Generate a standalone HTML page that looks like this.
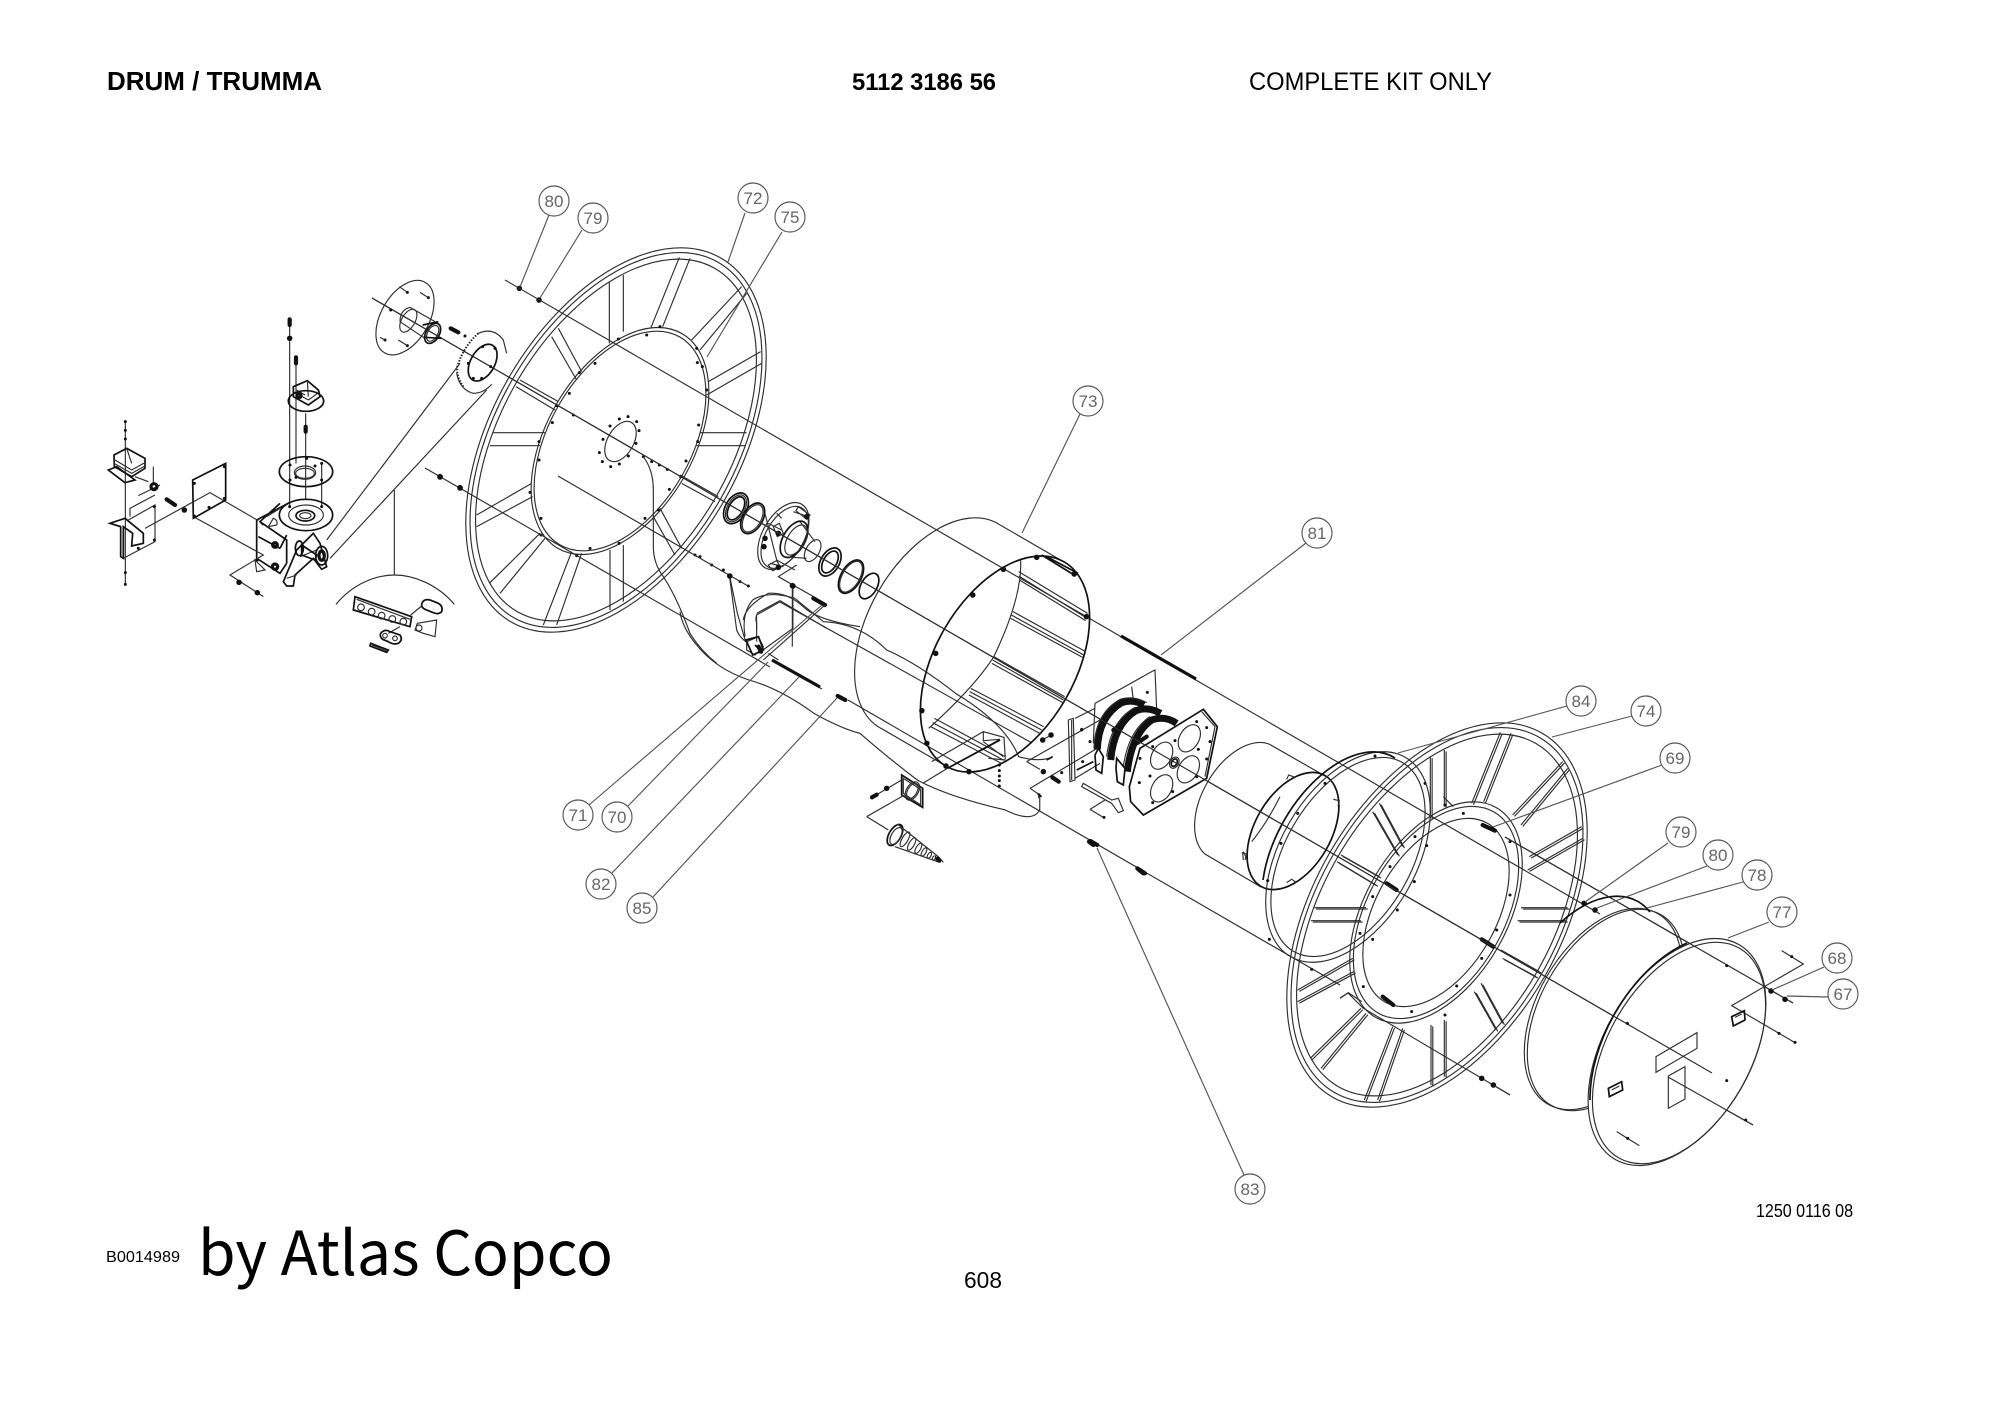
<!DOCTYPE html>
<html><head><meta charset="utf-8"><title>Drum / Trumma</title>
<style>
html,body{margin:0;padding:0;background:#fff}
svg{display:block}
svg *{vector-effect:non-scaling-stroke}
g,path,line,ellipse,circle{fill:none;stroke:#2e2e2e;stroke-width:1.15}
.e{transform-box:fill-box;transform-origin:center;transform:rotate(-60deg)}
.w{fill:#fff}
.b{stroke-width:1.7;stroke:#111}
.t{stroke-width:3.2;stroke:#111}
.x{stroke-width:4.2;stroke:#111;stroke-linecap:round}
.d{stroke-width:3;stroke-linecap:round;stroke:#111}
.h{stroke-width:5.5;stroke-linecap:round;stroke:#111}
.l{stroke:#555}
.lab circle{stroke:#555;fill:#fff}
text{font-family:"Liberation Sans",sans-serif;fill:#000;stroke:none}
.lab text{font-size:17px;fill:#666;text-anchor:middle}
</style></head><body>
<svg width="2000" height="1414" viewBox="0 0 2000 1414" xmlns="http://www.w3.org/2000/svg">
<rect width="2000" height="1414" style="fill:#fff;stroke:none"/>
<defs>
<g id="rim">
<ellipse class="e" cx="616" cy="440" rx="210" ry="124"/>
<ellipse class="e" cx="616" cy="440" rx="205" ry="120"/>
<ellipse class="e" cx="616" cy="440" rx="198" ry="115"/>
</g>
<g id="sp" transform="translate(440,180) scale(.33333)">
<path d="M718 232L632 445M750 235L668 440M508 305V490M550 285V455M335 470L410 600M355 445L425 575M228 620L345 690M240 600L355 665M160 758H315M150 797H300M110 1005L275 910M110 1040L278 950M148 1210L300 1060M180 1240L315 1075M310 1335L395 1115M350 1335L425 1120M510 1110V1290M550 1095V1265M640 1010L705 1125M660 985L725 1105M720 885L835 950M725 910L825 965M780 758H920M770 797H915M805 605L962 515M800 645L965 550M755 480L905 320M780 510L920 340"/>
</g>
</defs>

<!-- left wheel -->
<use href="#rim"/><use href="#sp"/>
<ellipse class="e" cx="620" cy="441" rx="124" ry="73.5"/>
<ellipse class="e" cx="620" cy="441" rx="120" ry="71"/>
<ellipse class="e" cx="620.5" cy="441.5" rx="22" ry="13"/>
<g transform="translate(440,180) scale(.33333)">
<path class="d" d="M564 710h.1M590 725h.1M597 752h.1M588 790h.1M565 828h.1M538 852h.1M512 860h.1M487 845h.1M478 818h.1M489 778h.1M510 738h.1M538 717h.1M620 465h.1M660 440h.1M535 477h.1M465 550h.1M418 578h.1M388 640h.1M350 677h.1M337 728h.1M297 785h.1M297 840h.1M270 937h.1M303 1015h.1M303 1065h.1M410 1127h.1M450 1105h.1M537 1090h.1M615 1015h.1M655 990h.1M688 928h.1M722 890h.1M738 843h.1M773 785h.1M776 735h.1M800 630h.1M772 548h.1M787 560h.1M770 505h.1M400 705h.1M610 830h.1M635 845h.1M658 855h.1M682 868h.1M765 1125h.1M780 1130h.1M815 1155h.1M850 1170h.1M870 1185h.1M900 1205h.1M925 1218h.1"/>
<path class="h" d="M238 325h.1M297 360h.1"/>
<!-- hub -->
<ellipse class="e b" cx="888" cy="985" rx="50" ry="32"/>
<ellipse class="e b" cx="888" cy="985" rx="38" ry="21"/>
<ellipse class="e" cx="888" cy="985" rx="44" ry="26"/>
<ellipse class="e b" cx="938" cy="1015" rx="50" ry="30"/>
<ellipse class="e" cx="938" cy="1015" rx="45" ry="25"/>
<ellipse class="e" cx="1030" cy="1068" rx="110" ry="62"/>
<ellipse class="e" cx="1034" cy="1072" rx="102" ry="57"/>
<ellipse class="e b" cx="1062" cy="1078" rx="60" ry="33"/>
<ellipse class="e" cx="1068" cy="1080" rx="50" ry="26"/>
<ellipse class="e" cx="1118" cy="1112" rx="36" ry="20"/>
<path d="M975 1000L1010 1140L1065 1170M1010 1000L1025 1015M1080 1025L1125 1085M1030 1130L1100 1135M985 1030L1025 1050M990 1150L1030 1160M1060 995L1105 1010M1000 1040L1018 1030L1030 1060L1012 1070ZM985 1155L1010 1142L1022 1162L998 1172ZM1075 980L1110 1005L1100 1018L1068 992Z"/>
<ellipse class="e b" cx="1170" cy="1146" rx="46" ry="28"/>
<ellipse class="e b" cx="1170" cy="1146" rx="36" ry="20"/>
<ellipse class="e b" cx="1233" cy="1190" rx="55" ry="30"/>
<ellipse class="e" cx="1233" cy="1190" rx="51" ry="26"/>
<ellipse class="e b" cx="1287" cy="1218" rx="42" ry="24"/>
<path class="h" d="M1015 1060h.1M1015 1162h.1M1100 1010h.1M975 1075h.1M972 1100h.1M1057 1217h.1"/>
<path d="M1070 1155L1015 1190L1130 1255"/><path class="x" d="M1120 1255L1155 1275"/>
<path d="M610 830Q640 870 640 930V1100Q640 1150 670 1190Q710 1250 750 1360Q780 1410 830 1450"/>
<path d="M868 1185L890 1350Q900 1375 925 1390M910 1320Q915 1280 985 1240Q1040 1235 1090 1280Q1130 1320 1260 1340M950 1325V1385M1057 1217V1400M920 1385L955 1370L970 1400L945 1425L920 1410Z"/>
<path class="b" d="M945 1395L965 1415"/>
<path d="M948 1310L948 1325M950 1300L1020 1262L1160 1345M1155 1275L970 1440M985 1420L1015 1440"/>
</g>

<!-- main long lines -->
<path d="M505 280L1600 914M372 298L1712 1073M425 468L770 667M772 660L822 689M848 700L1340 985M1340 998L1348 993L1363 1008L1510 1095M558 476L748 586M780 602L1032 743M1505 837L1793 1003M1668 1077L1753 1125"/>
<path class="t" d="M1121 636L1196 679M772 660L820 687"/>
<path class="h" d="M440 477h.1M460 488h.1"/>

<!-- drum 73 -->
<path d="M1064 562L995 522A118 70 -60 0 0 877 726L946 766"/>
<ellipse class="e b" cx="1005" cy="664" rx="118" ry="70"/>
<g transform="translate(680,480) scale(.3827,.33333)">
<path d="M890 240Q895 350 820 530Q770 620 650 745"/>
<path d="M885 275L1065 400M885 288L1060 412M887 300L1060 422M870 395L1060 515M866 405L1055 525M864 415L1052 532M820 530L1005 650M817 540L1002 660M815 550L1000 668M760 625L950 740M757 635L945 750M755 645L940 760M665 715L850 830M660 728L845 840M655 740L840 850"/>
<path class="b" d="M945 225L1030 285M955 228L1040 280"/>
<path class="h" d="M845 268h.1M932 232h.1M765 345h.1M668 520h.1M632 692h.1M645 790h.1M695 858h.1M755 875h.1M1030 282h.1M1062 410h.1"/>
<path d="M0 395Q5 440 40 490Q90 565 180 600Q260 625 350 700Q420 745 470 760Q540 830 620 900Q700 950 850 990Q920 1030 940 990V940"/>
<path d="M295 320V445L205 520M130 290L150 400L170 480M170 470Q160 400 190 360Q230 330 300 355L375 425Q470 430 540 510Q620 550 720 640Q850 730 885 830Q930 845 965 835"/>
<path d="M262 365L200 405V450"/>
<path class="h" d="M295 318h.1M130 288h.1"/>
<path class="b" d="M172 480L205 470L218 510L190 525Z"/>
<path class="x" d="M205 500L212 515"/>
<path class="x" d="M412 648L432 660"/>
<path class="x" d="M1072 1083L1090 1095M1195 1165L1215 1180"/>
</g>

<!-- center parts -->
<g transform="translate(860,700) scale(.33333)">
<path d="M215 185L370 95L432 112L436 178M262 205L420 118M370 95V122L420 118M385 175L436 180M370 125L430 170"/>
<path class="b" d="M262 205L420 120"/>
<path class="b" d="M125 225L188 265V322L125 285Z"/>
<path d="M130 235L182 268V315L130 280Z"/>
<ellipse class="e" cx="157" cy="273" rx="30" ry="18"/>
<ellipse class="e" cx="157" cy="273" rx="25" ry="14"/>
<path d="M40 290L125 240M188 250L262 205M20 350L130 287M20 350L85 390"/>
<path class="x" d="M36 292L50 284"/><path class="h" d="M80 265h.1"/>
<path class="d" d="M418 195h.1M418 212h.1M418 228h.1M418 242h.1M418 258h.1M325 213h.1"/>
<ellipse class="e b" cx="105" cy="405" rx="35" ry="18"/>
<ellipse class="e" cx="108" cy="408" rx="28" ry="14"/>
<path d="M112 372L235 470L250 487M105 440L238 487"/>
<ellipse class="e" cx="135" cy="418" rx="25" ry="9"/><ellipse class="e" cx="155" cy="432" rx="21" ry="8"/><ellipse class="e" cx="175" cy="445" rx="17" ry="7"/><ellipse class="e" cx="192" cy="456" rx="14" ry="6"/><ellipse class="e" cx="208" cy="466" rx="10" ry="5"/><ellipse class="e" cx="222" cy="474" rx="7" ry="4"/>
<path class="x" d="M232 476L238 482"/>
<path d="M500 185L720 60M510 265L720 140M500 185L540 208M510 265L540 285M545 120L575 105"/>
<path class="h" d="M550 215h.1M548 120h.1M573 105h.1"/>
<path class="x" d="M577 232L596 245"/><path class="b" d="M560 180L578 170"/>
<path class="d" d="M605 218h.1M665 90h.1"/>
<path d="M536 280V295"/><path class="b" d="M533 282L545 290"/>
</g>

<!-- brush rig -->
<g transform="translate(1040,660) scale(.33333)">
<path d="M165 130L335 35L345 30L350 150M275 80L280 120M165 130L160 250M85 180L100 175L105 360L90 365ZM105 175L165 145M105 355L180 310M95 180V360"/>
<path class="t" style="stroke-width:7" d="M172 268Q175 170 245 128Q280 116 312 135"/>
<path class="t" style="stroke-width:7" d="M212 300Q222 192 288 152Q322 138 362 160"/>
<path class="t" style="stroke-width:7" d="M262 335Q275 222 335 180Q375 166 410 190"/>
<path d="M162 265Q165 160 240 118Q280 105 320 128M200 290Q212 182 285 142M250 320Q265 212 330 170"/>
<path class="x" d="M220 210L248 190M290 250L320 230"/>
<path class="w b" d="M490 148L532 200L500 355L310 465L272 425L268 380L300 265Z"/>
<path d="M485 155L525 200L495 350"/>
<ellipse class="e" cx="365" cy="287" rx="44" ry="29"/><ellipse class="e" cx="448" cy="235" rx="44" ry="29"/><ellipse class="e" cx="445" cy="328" rx="44" ry="29"/><ellipse class="e" cx="365" cy="385" rx="44" ry="29"/>
<ellipse class="e" cx="403" cy="308" rx="18" ry="13"/><ellipse class="e b" cx="403" cy="308" rx="12" ry="8"/>
<path class="d" d="M470 185h.1M500 203h.1M510 245h.1M500 297h.1M470 350h.1M475 268h.1M405 242h.1M338 260h.1M330 348h.1M298 368h.1M338 428h.1M398 395h.1M300 295h.1"/>
<path class="b" d="M175 265L190 290L185 340L168 330L165 285ZM230 295L255 325L250 375L232 365L228 325Z"/>
<path d="M130 370L215 420L235 415L250 452L235 458L215 430L125 380Z"/>
<path d="M150 448L195 420M150 448L190 472"/>
<path class="d" d="M125 208h.1M150 245h.1M322 97h.1M128 305h.1M192 472h.1"/>
<path class="b" d="M110 330L160 305"/>
<path class="x" d="M147 545L160 555M295 628L310 640"/>
<path d="M610 575L622 600M608 578L610 600"/>
</g>

<!-- right assembly: small cylinder & flange -->
<path d="M1325 776L1269 744A64 38 -60 0 0 1205 854L1261 887"/>
<ellipse class="e b" cx="1293" cy="831" rx="64" ry="38"/>
<ellipse class="e" cx="1348" cy="857" rx="115" ry="68"/>
<ellipse class="e" cx="1348" cy="857" rx="109" ry="63"/>
<path class="b" d="M1395 758A109 63 -60 0 0 1263 880"/>
<g transform="translate(821,475)">
<use href="#rim"/><use href="#sp"/>
<use href="#sp" transform="translate(1.8,1.4)"/>
</g>
<ellipse class="e" cx="1436" cy="912.5" rx="121" ry="71"/>
<ellipse class="e" cx="1436" cy="912.5" rx="116" ry="68"/>
<ellipse class="e" cx="1436" cy="912.5" rx="103" ry="60"/>
<g transform="translate(1180,700) scale(.33333)">
<path d="M320 238L326 225L345 232M460 298L478 302L474 320M185 458L200 462L195 480M320 548L335 538L350 548M300 290Q260 370 215 425"/>
<path class="d" d="M585 168h.1M435 250h.1M353 340h.1M303 430h.1M263 542h.1M268 718h.1M395 808h.1M795 315h.1M850 340h.1M935 385h.1M990 425h.1M990 585h.1M950 690h.1M905 775h.1M830 858h.1M695 935h.1M550 860h.1M540 700h.1M578 590h.1M630 500h.1M705 410h.1M740 437h.1M703 545h.1M652 630h.1M578 718h.1M735 250h.1M795 945h.1"/>
<path class="x" d="M908 375L945 392M620 550L650 570M905 718L940 740M608 890L640 915"/>
<path d="M480 895L505 878L545 905M790 290L820 320"/>
<path class="h" d="M905 1135h.1M940 1155h.1"/>
<path d="M990 1185L945 1158"/>
</g>

<!-- discs 78 / 77 -->
<ellipse class="e" cx="1603" cy="1009" rx="110" ry="65"/>
<ellipse class="e" cx="1606" cy="1010" rx="110" ry="65"/>
<path class="b" d="M1560 923A110 65 -60 0 1 1650 912"/>
<ellipse class="e w" cx="1677" cy="1052" rx="124" ry="73.5"/>
<ellipse class="e" cx="1679" cy="1053" rx="121" ry="71.5"/>
<path class="b" d="M1687 943A124 73.5 -60 0 0 1590 1100"/>
<path d="M372 298L1712 1073M1505 837L1793 1003M1668 1077L1753 1125"/>
<g transform="translate(1480,800) scale(.33333)">
<path d="M528 770L651 698V745L528 817ZM565 828L615 800V897L565 925Z"/>
<path d="M905 452L970 492L755 617L945 728M410 995L478 1037"/>
<path class="b" d="M755 650L793 632L795 660L760 678ZM385 865L425 845L428 870L388 890Z"/>
<path d="M765 652L785 642M395 870L418 858"/>
<path class="d" d="M935 470h.1M897 700h.1M945 727h.1M443 1015h.1M740 842h.1M740 497h.1M442 670h.1M797 960h.1"/>
<path class="h" d="M312 310h.1M345 330h.1M873 573h.1M915 598h.1"/>
</g>

<!-- left details -->
<g transform="translate(60,250) scale(.33333)">
<ellipse class="e" cx="1035" cy="203" rx="122" ry="72"/>
<path d="M1050 172L1125 215M1020 215Q1020 180 1050 172M1020 215L1090 262"/>
<ellipse class="e" cx="1045" cy="212" rx="38" ry="20"/>
<ellipse class="e b" cx="1118" cy="250" rx="33" ry="20"/>
<ellipse class="e" cx="1118" cy="250" rx="26" ry="15"/>
<path class="b" d="M1088 225L1135 215M1090 262L1145 265"/>
<path class="d" d="M1042 127h.1M1105 143h.1M992 180h.1M975 270h.1M1042 287h.1M1215 258h.1"/>
<path d="M1018 110L1042 127M1080 127L1105 143M960 262L975 270M1015 270L1042 287"/>
<path class="x" d="M1172 235L1195 247"/>
<path d="M1255 250Q1300 230 1330 270L1340 310M1190 370Q1200 420 1240 430Q1270 430 1295 403"/>
<path style="stroke-width:2;stroke:#222;stroke-dasharray:1.5 1.5" d="M1255 250Q1210 290 1192 350Q1188 380 1210 410"/>
<ellipse class="e b" cx="1268" cy="338" rx="60" ry="36"/>
<path class="d" d="M1225 340h.1M1240 385h.1M1268 290h.1M1305 295h.1M1292 350h.1M1265 385h.1"/>
<path d="M1200 340L800 870M1280 420L810 925"/>
<path d="M1003 720V975M828 1063C880 1000 950 975 1003 975S1130 1000 1183 1063"/>
<path class="b" d="M885 1040L1055 1100L1050 1130L880 1080Z"/>
<path d="M890 1048L1050 1108"/>
<circle cx="903" cy="1072" r="10"/><circle cx="935" cy="1085" r="10"/><circle cx="965" cy="1097" r="10"/><circle cx="997" cy="1107" r="10"/><circle cx="1030" cy="1115" r="10"/>
<path class="b" d="M1085 1062Q1090 1045 1110 1050L1135 1060Q1150 1068 1145 1085Q1135 1095 1120 1088L1095 1078Q1083 1072 1085 1062Z"/>
<path d="M1100 1065h1M1120 1078h1M1052 1095L1085 1068M1020 1130L985 1150M1072 1120L1130 1110L1125 1160L1090 1150L1065 1140Z"/>
<circle cx="1077" cy="1134" r="9"/>
<path class="b" d="M962 1150Q975 1135 990 1145L1020 1155Q1030 1170 1015 1180Q1000 1185 985 1175L968 1168Q958 1160 962 1150Z"/>
<circle cx="975" cy="1157" r="7"/><circle cx="1005" cy="1165" r="7"/>
<path class="b" d="M932 1180L985 1200L980 1207L930 1188Z"/><path d="M935 1185L980 1202"/>

<path d="M689 215V770M708 330V640M737 490V750M785 640V770M689 770L689 640"/>
<path class="x" d="M689 208V225M708 322V340M737 530V545"/>
<path class="h" d="M689 265h.1"/>
<path class="b" d="M700 410L742 392L775 420L780 440L745 465L700 440Z"/>
<path d="M742 392L745 440M700 425L745 450M745 450L780 425M710 420L735 435"/>
<ellipse class="b" cx="738" cy="453" rx="53" ry="31"/>
<circle class="t" cx="717" cy="437" r="6"/>
<ellipse class="b" cx="738" cy="665" rx="80" ry="45"/>
<ellipse cx="735" cy="668" rx="32" ry="20"/><ellipse cx="735" cy="670" rx="28" ry="15"/>
<path class="d" d="M690 645h.1M785 640h.1M690 690h.1M785 690h.1M740 625h.1M765 648h.1M708 682h.1M689 770h.1M785 770h.1"/>
<path class="b" d="M590 810L690 757M590 810V925L660 970L680 940M660 760L600 815L610 825M600 815L680 870V940M595 860L660 895M660 895L680 855"/>
<path d="M620 800L660 775M625 830L640 805Q655 810 650 825Z"/>
<ellipse class="b" cx="738" cy="795" rx="80" ry="47"/>
<ellipse cx="738" cy="795" rx="52" ry="30"/><ellipse class="b" cx="736" cy="797" rx="28" ry="16"/><ellipse cx="736" cy="797" rx="17" ry="9"/>
<circle class="t" cx="645" cy="885" r="7"/><circle class="t" cx="645" cy="950" r="8"/>
<path class="b" d="M670 995L710 900L760 850L780 880L800 950L785 958L760 925L705 975L700 1008L680 1008Z"/>
<path d="M585 930L615 960L590 965ZM680 985L710 975M720 920L770 900"/>
<path class="b" d="M725 885L770 915L765 930L725 915Z"/>
<ellipse class="b" cx="718" cy="895" rx="12" ry="22"/>
<ellipse class="b" cx="785" cy="917" rx="18" ry="28"/>
<ellipse class="t" cx="785" cy="917" rx="8" ry="14"/>

<path d="M196 515V1005"/>
<path class="d" d="M196 515h.1M196 541h.1M196 567h.1M196 968h.1M196 1003h.1"/>
<path class="b" d="M162 615L200 595L255 625V655L215 680L163 650Z"/>
<path d="M162 628L215 660L255 638M162 640L215 670L255 648M200 595L215 640"/>
<path class="b" d="M145 660L170 650L225 690L195 698Z"/>
<path d="M225 680L265 695M280 650V700M235 737L300 705"/>
<circle class="t" cx="282" cy="710" r="9"/>
<path class="b" d="M150 820L195 805L250 850V880L215 888L218 850L190 830V925L182 920V830Z"/>
<path d="M210 800V775L285 735M190 925L285 875V765L205 810"/>
<path class="d" d="M283 770h.1M283 870h.1M235 895h.1"/>
<path d="M255 835L450 728L595 812M400 800L610 915L510 975L610 1040"/>
<path class="x" d="M320 748L345 765"/>
<path class="h" d="M373 780h.1M537 997h.1M592 1028h.1"/>
<path class="b" d="M398 690L497 640V750L400 805Z"/>
<path class="d" d="M403 700h.1M493 650h.1M493 745h.1M403 798h.1M447 772h.1"/>
<path class="d" d="M592 930h.1"/>
<path class="h" d="M1140 680h.1M1200 713h.1"/>
</g>

<!-- leaders -->
<path class="l" d="M549 215L520 287M582 230L540 298M745 213L728 262M782 232L707 357M1080 414L1022 533M1306 543L1161 655M589 805L822 605M628 806L768 662M612 873L799 677M653 897L837 698M1097 848L1244 1175M1567 706L1398 753M1632 716L1552 737M1662 765L1493 827M1668 843L1585 902M1707 866L1597 908M1743 882L1647 908M1769 922L1728 938M1824 967L1772 990M1828 997L1787 996"/>

<g class="lab">
<circle cx="554" cy="201" r="15"/><text x="554" y="207">80</text>
<circle cx="593" cy="218" r="15"/><text x="593" y="224">79</text>
<circle cx="753" cy="198" r="15"/><text x="753" y="204">72</text>
<circle cx="790" cy="217" r="15"/><text x="790" y="223">75</text>
<circle cx="1088" cy="401" r="15"/><text x="1088" y="407">73</text>
<circle cx="1317" cy="533" r="15"/><text x="1317" y="539">81</text>
<circle cx="578" cy="815" r="15"/><text x="578" y="821">71</text>
<circle cx="617" cy="817" r="15"/><text x="617" y="823">70</text>
<circle cx="601" cy="884" r="15"/><text x="601" y="890">82</text>
<circle cx="642" cy="908" r="15"/><text x="642" y="914">85</text>
<circle cx="1250" cy="1189" r="15"/><text x="1250" y="1195">83</text>
<circle cx="1581" cy="701" r="15"/><text x="1581" y="707">84</text>
<circle cx="1646" cy="711" r="15"/><text x="1646" y="717">74</text>
<circle cx="1675" cy="758" r="15"/><text x="1675" y="764">69</text>
<circle cx="1681" cy="832" r="15"/><text x="1681" y="838">79</text>
<circle cx="1718" cy="855" r="15"/><text x="1718" y="861">80</text>
<circle cx="1757" cy="875" r="15"/><text x="1757" y="881">78</text>
<circle cx="1782" cy="912" r="15"/><text x="1782" y="918">77</text>
<circle cx="1837" cy="958" r="15"/><text x="1837" y="964">68</text>
<circle cx="1843" cy="994" r="15"/><text x="1843" y="1000">67</text>
</g>

<text x="107" y="90" font-size="25.5" font-weight="bold" textLength="215" lengthAdjust="spacingAndGlyphs">DRUM / TRUMMA</text>
<text x="852" y="90" font-size="24" font-weight="bold" textLength="144" lengthAdjust="spacingAndGlyphs">5112 3186 56</text>
<text x="1249" y="90" font-size="25" textLength="243" lengthAdjust="spacingAndGlyphs">COMPLETE KIT ONLY</text>
<text x="106" y="1262" font-size="16" textLength="74" lengthAdjust="spacingAndGlyphs">B0014989</text>
<text x="198" y="1275" font-size="61" textLength="415" lengthAdjust="spacingAndGlyphs" style="font-family:'Noto Sans CJK JP','Liberation Sans',sans-serif">by Atlas Copco</text>
<text x="964" y="1288" font-size="23" textLength="38" lengthAdjust="spacingAndGlyphs">608</text>
<text x="1756" y="1217" font-size="18" textLength="97" lengthAdjust="spacingAndGlyphs">1250 0116 08</text>
</svg>
</body></html>
